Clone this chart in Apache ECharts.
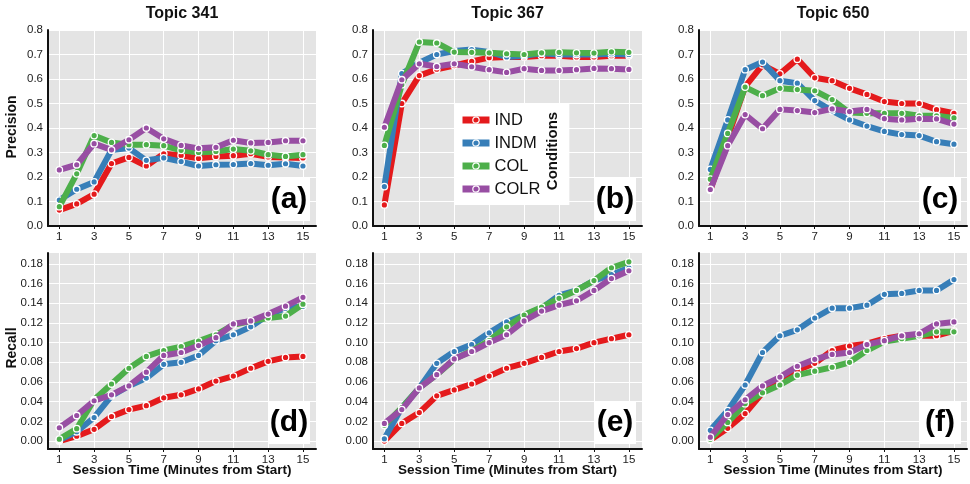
<!DOCTYPE html>
<html>
<head>
<meta charset="utf-8">
<script src="https://cdn.jsdelivr.net/npm/echarts@6/dist/echarts.min.js"></script>
<style>
  html, body { margin: 0; padding: 0; background: #fff; }
  #chart { width: 970px; height: 484px; }
</style>
</head>
<body>
<div id="chart"></div>
<script>
// session minutes (x values)
const sessionTimes = [1, 2, 3, 4, 5, 6, 7, 8, 9, 10, 11, 12, 13, 14, 15];
const xTicks = [1, 3, 5, 7, 9, 11, 13, 15];
const precTicks = [0, 0.1, 0.2, 0.3, 0.4, 0.5, 0.6, 0.7, 0.8];
const recallTicks = [0, 0.02, 0.04, 0.06, 0.08, 0.1, 0.12, 0.14, 0.16, 0.18];
const conditions = ["IND", "INDM", "COL", "COLR"];
const topics = ["Topic 341", "Topic 367", "Topic 650"];
const panelLetters = ["(a)", "(b)", "(c)", "(d)", "(e)", "(f)"];

// precision, topic 341
const prec341Ind = [0.065, 0.09, 0.13, 0.255, 0.28, 0.245, 0.295, 0.288, 0.276, 0.284, 0.287, 0.295, 0.282, 0.28, 0.278];
const prec341Indm = [0.106, 0.15, 0.18, 0.31, 0.318, 0.268, 0.278, 0.263, 0.245, 0.25, 0.251, 0.255, 0.248, 0.254, 0.245];
const prec341Col = [0.079, 0.213, 0.369, 0.341, 0.332, 0.332, 0.328, 0.309, 0.3, 0.304, 0.314, 0.307, 0.291, 0.284, 0.291];
const prec341Colr = [0.229, 0.25, 0.336, 0.311, 0.352, 0.4, 0.356, 0.329, 0.317, 0.321, 0.35, 0.339, 0.341, 0.348, 0.348];
// precision, topic 367
const prec367Ind = [0.086, 0.5, 0.614, 0.64, 0.655, 0.672, 0.687, 0.69, 0.69, 0.695, 0.695, 0.69, 0.69, 0.695, 0.695];
const prec367Indm = [0.161, 0.622, 0.666, 0.7, 0.714, 0.72, 0.71, 0.69, 0.695, 0.705, 0.7, 0.7, 0.7, 0.703, 0.7];
const prec367Col = [0.329, 0.577, 0.751, 0.747, 0.71, 0.709, 0.707, 0.703, 0.7, 0.707, 0.709, 0.707, 0.706, 0.711, 0.709];
const prec367Colr = [0.403, 0.597, 0.662, 0.651, 0.662, 0.65, 0.638, 0.627, 0.642, 0.635, 0.635, 0.638, 0.643, 0.642, 0.639];
// precision, topic 650
const prec650Ind = [0.146, 0.36, 0.569, 0.658, 0.621, 0.681, 0.605, 0.593, 0.562, 0.537, 0.508, 0.5, 0.5, 0.475, 0.46];
const prec650Indm = [0.231, 0.433, 0.638, 0.669, 0.593, 0.583, 0.512, 0.47, 0.433, 0.408, 0.386, 0.373, 0.369, 0.344, 0.334];
const prec650Col = [0.191, 0.378, 0.567, 0.532, 0.562, 0.557, 0.552, 0.516, 0.463, 0.46, 0.46, 0.46, 0.45, 0.45, 0.441];
const prec650Colr = [0.149, 0.328, 0.455, 0.397, 0.476, 0.471, 0.463, 0.478, 0.467, 0.476, 0.438, 0.433, 0.438, 0.437, 0.416];

// recall, topic 341
const rec341Ind = [0.0, 0.005, 0.012, 0.025, 0.032, 0.036, 0.044, 0.047, 0.053, 0.061, 0.066, 0.074, 0.081, 0.085, 0.086];
const rec341Indm = [0.001, 0.0095, 0.024, 0.046, 0.056, 0.064, 0.078, 0.08, 0.087, 0.102, 0.108, 0.116, 0.128, 0.135, 0.137];
const rec341Col = [0.002, 0.0126, 0.042, 0.058, 0.074, 0.086, 0.092, 0.096, 0.1016, 0.108, 0.118, 0.122, 0.125, 0.127, 0.139];
const rec341Colr = [0.0136, 0.026, 0.041, 0.047, 0.056, 0.07, 0.087, 0.09, 0.097, 0.105, 0.119, 0.122, 0.129, 0.137, 0.146];
// recall, topic 367
const rec367Ind = [0.0, 0.018, 0.029, 0.046, 0.052, 0.058, 0.066, 0.074, 0.079, 0.085, 0.091, 0.094, 0.1, 0.104, 0.108];
const rec367Indm = [0.0024, 0.034, 0.054, 0.079, 0.091, 0.098, 0.11, 0.121, 0.128, 0.135, 0.148, 0.153, 0.163, 0.169, 0.176];
const rec367Col = [0.016, 0.034, 0.054, 0.0675, 0.083, 0.092, 0.102, 0.116, 0.128, 0.136, 0.145, 0.153, 0.163, 0.176, 0.182];
const rec367Colr = [0.018, 0.032, 0.054, 0.0675, 0.0835, 0.091, 0.1, 0.108, 0.122, 0.132, 0.138, 0.1425, 0.153, 0.165, 0.173];
// recall, topic 650
const rec650Ind = [0.001, 0.013, 0.028, 0.049, 0.061, 0.072, 0.079, 0.092, 0.0965, 0.099, 0.104, 0.107, 0.107, 0.107, 0.112];
const rec650Indm = [0.011, 0.031, 0.057, 0.09, 0.107, 0.113, 0.125, 0.135, 0.135, 0.138, 0.149, 0.15, 0.153, 0.153, 0.164];
const rec650Col = [0.002, 0.019, 0.038, 0.049, 0.057, 0.067, 0.071, 0.075, 0.08, 0.092, 0.101, 0.104, 0.107, 0.111, 0.111];
const rec650Colr = [0.004, 0.027, 0.042, 0.056, 0.065, 0.076, 0.083, 0.088, 0.09, 0.098, 0.102, 0.107, 0.109, 0.119, 0.121];

const panelData = [
  [prec341Ind, prec341Indm, prec341Col, prec341Colr],
  [prec367Ind, prec367Indm, prec367Col, prec367Colr],
  [prec650Ind, prec650Indm, prec650Col, prec650Colr],
  [rec341Ind, rec341Indm, rec341Col, rec341Colr],
  [rec367Ind, rec367Indm, rec367Col, rec367Colr],
  [rec650Ind, rec650Indm, rec650Col, rec650Colr]
];

const colors = ["#e41a1c", "#377eb8", "#4daf4a", "#984ea3"];
const FONT = "Liberation Sans, Arial, Helvetica, sans-serif";

const colLeft = [48, 373, 699];
const colWidth = [268, 269, 268];
const rowTop = [30, 253];
const rowHeight = 196;

let grids = [], xAxes = [], yAxes = [], series = [], graphics = [];

for (let p = 0; p < 6; p++) {
  const row = Math.floor(p / 3), col = p % 3;
  const isPrec = row === 0;
  grids.push({
    left: colLeft[col], top: rowTop[row], width: colWidth[col], height: rowHeight,
    show: true, backgroundColor: "#e4e4e4", borderWidth: 0
  });
  xAxes.push({
    type: "value", gridIndex: p, min: 0.35, max: 15.75,
    axisLine: { show: true, onZero: false, lineStyle: { color: "#111", width: 2 } },
    axisTick: { show: true, length: 3, customValues: xTicks, lineStyle: { color: "#111" } },
    axisLabel: { customValues: xTicks, color: "#222", fontSize: 11.5, fontFamily: FONT, margin: 5 },
    splitLine: { show: true, lineStyle: { color: "#fff", width: 1 } }
  });
  yAxes.push({
    type: "value", gridIndex: p,
    min: isPrec ? 0 : -0.008, max: isPrec ? 0.8 : 0.191,
    axisLine: { show: true, onZero: false, lineStyle: { color: "#111", width: 2 } },
    axisTick: { show: false, customValues: isPrec ? precTicks : recallTicks },
    axisLabel: {
      customValues: isPrec ? precTicks : recallTicks,
      color: "#222", fontSize: 11.5, fontFamily: FONT, margin: 5,
      formatter: v => v.toFixed(isPrec ? 1 : 2)
    },
    splitLine: { show: true, lineStyle: { color: "#fff", width: 1 } }
  });
  for (let c = 0; c < 4; c++) {
    series.push({
      name: conditions[c], type: "line", xAxisIndex: p, yAxisIndex: p,
      data: sessionTimes.map((t, i) => [t, panelData[p][c][i]]),
      symbol: "circle", symbolSize: 6.5,
      lineStyle: { color: colors[c], width: 6 },
      itemStyle: { color: colors[c], borderColor: "#fff", borderWidth: 1.3 },
      z: 2 + c
    });
  }
  // panel letter on white box
  const right = colLeft[col] + colWidth[col] - 6;
  const bottom = rowTop[row] + rowHeight - 5;
  graphics.push({
    type: "rect", shape: { x: right - 42, y: bottom - 43, width: 42, height: 43 },
    style: { fill: "#fff" }, z: 50
  });
  graphics.push({
    type: "text", x: right - 21, y: bottom - 21, z: 51,
    style: { text: panelLetters[p], font: "bold 30px " + FONT, fill: "#000",
      textAlign: "center", textVerticalAlign: "middle", align: "center", verticalAlign: "middle" }
  });
}

// topic titles and x axis names
topics.forEach((t, col) => {
  graphics.push({
    type: "text", x: colLeft[col] + colWidth[col] / 2, y: 14,
    style: { text: t, font: "bold 16px " + FONT, fill: "#111",
      textAlign: "center", textVerticalAlign: "middle", align: "center", verticalAlign: "middle" }
  });
  graphics.push({
    type: "text", x: colLeft[col] + colWidth[col] / 2, y: 470,
    style: { text: "Session Time (Minutes from Start)", font: "bold 13.5px " + FONT, fill: "#111",
      textAlign: "center", textVerticalAlign: "middle", align: "center", verticalAlign: "middle" }
  });
});

// y axis names
[["Precision", 127], ["Recall", 348]].forEach(([name, y]) => {
  graphics.push({
    type: "text", x: 12, y: y, rotation: Math.PI / 2,
    style: { text: name, font: "bold 14px " + FONT, fill: "#111",
      textAlign: "center", textVerticalAlign: "middle", align: "center", verticalAlign: "middle" }
  });
});

// legend title
graphics.push({
  type: "text", x: 553, y: 151, rotation: Math.PI / 2, z: 60,
  style: { text: "Conditions", font: "bold 15px " + FONT, fill: "#111",
    textAlign: "center", textVerticalAlign: "middle", align: "center", verticalAlign: "middle" }
});

let option = {
  animation: false,
  backgroundColor: "#fff",
  grid: grids,
  xAxis: xAxes,
  yAxis: yAxes,
  legend: {
    data: conditions,
    orient: "vertical",
    left: 455, top: 103,
    backgroundColor: "#fff",
    padding: [8, 29, 7, 4],
    itemWidth: 27, itemHeight: 8, itemGap: 5,
    selectedMode: false,
    lineStyle: { width: 7 },
    itemStyle: { borderColor: "#fff", borderWidth: 1.2 },
    textStyle: { fontSize: 16.5, fontFamily: FONT, color: "#111", lineHeight: 18 },
    z: 40
  },
  graphic: graphics,
  series: series
};

let dom = echarts.init(document.getElementById("chart"));
dom.setOption(option);
</script>
</body>
</html>
